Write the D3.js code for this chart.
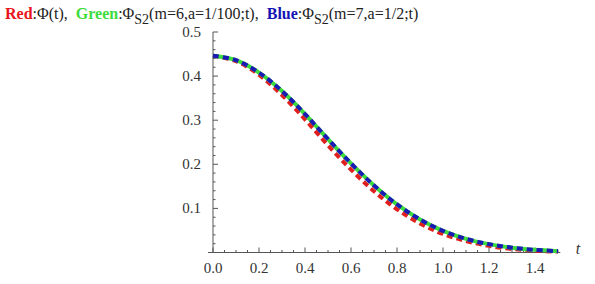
<!DOCTYPE html>
<html>
<head>
<meta charset="utf-8">
<script src="https://cdn.jsdelivr.net/npm/d3@7"></script>
<style>
  body { margin: 0; background: #fff; }
  svg { display: block; font-family: "Liberation Serif", "DejaVu Serif", serif; }
</style>
</head>
<body>
<div id="chart"></div>
<script>
// sample points along t
const tValues = [0, 0.1, 0.2, 0.3, 0.4, 0.5, 0.6, 0.7, 0.8, 0.9, 1.0, 1.1, 1.2, 1.3, 1.4, 1.5]
const redValues = [0.446, 0.434, 0.403, 0.357, 0.302, 0.243, 0.188, 0.139, 0.098, 0.066, 0.042, 0.026, 0.015, 0.008, 0.004, 0.002]
const greenValues = [0.446, 0.436, 0.408, 0.366, 0.314, 0.257, 0.202, 0.152, 0.109, 0.075, 0.049, 0.031, 0.019, 0.011, 0.006, 0.003]
const blueValues = [0.446, 0.436, 0.408, 0.366, 0.314, 0.257, 0.202, 0.152, 0.109, 0.075, 0.049, 0.031, 0.019, 0.011, 0.006, 0.003]
const xTicks = [0, 0.2, 0.4, 0.6, 0.8, 1.0, 1.2, 1.4]
const yTicks = [0.1, 0.2, 0.3, 0.4, 0.5]

const width = 595, height = 284
const axisColor = "#555"
const labelColor = "#333"

const svg = d3.select("#chart").append("svg")
    .attr("width", width)
    .attr("height", height)

const xScale = d3.scaleLinear().domain([0, 1.5]).range([213, 558])
const yScale = d3.scaleLinear().domain([0, 0.5]).range([252.5, 32])

// title with coloured keywords
const title = svg.append("text")
    .attr("x", 5)
    .attr("y", 19)
    .attr("font-size", 16)
    .attr("fill", "#222")

const titleParts = [
    {text: "Red", bold: true, color: "#e8141c"},
    {text: ":\u03A6(t),  "},
    {text: "Green", bold: true, color: "#3ddc3d"},
    {text: ":\u03A6"}, {text: "S2", sub: true},
    {text: "(m=6,a=1/100;t),  "},
    {text: "Blue", bold: true, color: "#1414b4"},
    {text: ":\u03A6"}, {text: "S2", sub: true},
    {text: "(m=7,a=1/2;t)"}
]
let wasSub = false
titleParts.forEach(p => {
    const ts = title.append("tspan").text(p.text).attr("xml:space", "preserve")
    if (p.bold) ts.attr("font-weight", "bold")
    if (p.color) ts.attr("fill", p.color)
    if (p.sub) { ts.attr("dy", 5).attr("font-size", 14); wasSub = true }
    else if (wasSub) { ts.attr("dy", -5); wasSub = false }
})
title.style("white-space", "pre")

// axes, Mathematica style: ticks point inward
const axes = svg.append("g").attr("stroke", axisColor).attr("stroke-width", 1)

axes.append("line")
    .attr("x1", xScale(0) - 5).attr("x2", xScale(1.51))
    .attr("y1", yScale(0)).attr("y2", yScale(0))
axes.append("line")
    .attr("x1", xScale(0)).attr("x2", xScale(0))
    .attr("y1", yScale(0)).attr("y2", yScale(0.5))

const xMinor = d3.range(0, 1.501, 0.05)
axes.selectAll(".xtick")
    .data(xMinor)
    .enter().append("line")
    .attr("x1", d => xScale(d)).attr("x2", d => xScale(d))
    .attr("y1", yScale(0))
    .attr("y2", (d, i) => yScale(0) - (i % 4 === 0 ? 5 : 2.5))

const yMinor = d3.range(0.02, 0.501, 0.02)
axes.selectAll(".ytick")
    .data(yMinor)
    .enter().append("line")
    .attr("y1", d => yScale(d)).attr("y2", d => yScale(d))
    .attr("x1", xScale(0))
    .attr("x2", (d, i) => xScale(0) + ((i + 1) % 5 === 0 ? 5 : 2.5))

svg.selectAll(".xLabel")
    .data(xTicks)
    .enter().append("text")
    .attr("x", d => xScale(d))
    .attr("y", 273)
    .attr("text-anchor", "middle")
    .attr("font-size", 15)
    .attr("fill", labelColor)
    .text(d => d.toFixed(1))

svg.selectAll(".yLabel")
    .data(yTicks)
    .enter().append("text")
    .attr("x", 201)
    .attr("y", d => yScale(d) + 5)
    .attr("text-anchor", "end")
    .attr("font-size", 15)
    .attr("fill", labelColor)
    .text(d => d.toFixed(1))

svg.append("text")
    .attr("x", 578)
    .attr("y", 254)
    .attr("text-anchor", "middle")
    .attr("font-size", 16)
    .attr("font-style", "italic")
    .attr("fill", labelColor)
    .text("t")

// curves
const line = d3.line()
    .x((d, i) => xScale(tValues[i]))
    .y(d => yScale(d))
    .curve(d3.curveCatmullRom)

const series = [
    {values: redValues, color: "#e01e1e", dash: "6,4"},
    {values: greenValues, color: "#3ddc3d", dash: null},
    {values: blueValues, color: "#1a1ab4", dash: "6,4"}
]

series.forEach(s => {
    const path = svg.append("path")
        .datum(s.values)
        .attr("d", line)
        .attr("fill", "none")
        .attr("stroke", s.color)
        .attr("stroke-width", 4)
    if (s.dash) path.attr("stroke-dasharray", s.dash)
})
</script>
</body>
</html>
